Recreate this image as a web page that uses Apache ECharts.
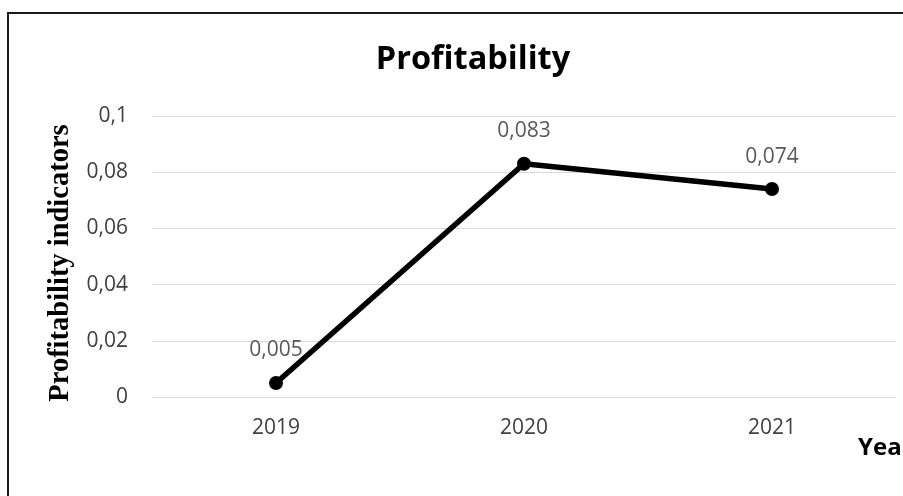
<!DOCTYPE html>
<html><head><meta charset="utf-8">
<script src="https://cdn.jsdelivr.net/npm/echarts@6/dist/echarts.min.js"></script>
<style>html,body{margin:0;padding:0;background:#fff}#c{width:903px;height:496px}</style>
</head><body><div id="c"></div>
<script>
var categories = ['2019', '2020', '2021'];
var values = [0.005, 0.083, 0.074];
var yTicks = [0, 0.02, 0.04, 0.06, 0.08, 0.1];

function fmt(v){ return String(+v.toFixed(3)).replace('.', ','); }

var chart = echarts.init(document.getElementById('c'));
chart.setOption({
  animation: false,
  title: {
    text: 'Profitability', left: 468, top: 38, textAlign: 'center',
    textStyle: {fontFamily: 'Open Sans', fontWeight: 'bold', fontSize: 32.5, color: '#000'}
  },
  grid: {left: 152, right: 7, top: 116, bottom: 99, containLabel: false},
  xAxis: {
    type: 'category', data: categories, boundaryGap: true,
    axisLine: {show: false}, axisTick: {show: false},
    axisLabel: {color: '#404040', fontSize: 21, fontFamily: 'Open Sans', margin: 21}
  },
  yAxis: {
    type: 'value', min: 0, max: 0.1, interval: 0.02,
    axisLine: {show: false}, axisTick: {show: false},
    splitLine: {lineStyle: {color: '#d9d9d9', width: 1}},
    axisLabel: {color: '#404040', fontSize: 21, fontFamily: 'Open Sans', margin: 24,
      formatter: function(v){ return yTicks.indexOf(+v.toFixed(2)) >= 0 ? fmt(v) : ''; }}
  },
  series: [{
    type: 'line', data: values,
    lineStyle: {color: '#000', width: 5.5},
    itemStyle: {color: '#000'},
    symbol: 'circle', symbolSize: 14,
    label: {show: true, position: 'top', distance: 15, color: '#595959', fontSize: 21,
      fontFamily: 'Open Sans', formatter: function(p){ return fmt(p.value); }}
  }],
  graphic: [
    {type: 'rect', shape: {x: 8, y: 13, width: 1000, height: 1000}, silent: true,
     style: {fill: 'none', stroke: '#1a1a1a', lineWidth: 2}},
    {type: 'text', x: 61, y: 263, rotation: Math.PI / 2, silent: true,
     style: {text: 'Profitability indicators', font: 'bold 28.5px "Liberation Serif"', fill: '#000',
       textAlign: 'center', textVerticalAlign: 'middle'}},
    {type: 'text', left: 858, top: 436, silent: true,
     style: {text: 'Year', font: 'bold 24px "Open Sans"', fill: '#000'}}
  ]
});
</script></body></html>
